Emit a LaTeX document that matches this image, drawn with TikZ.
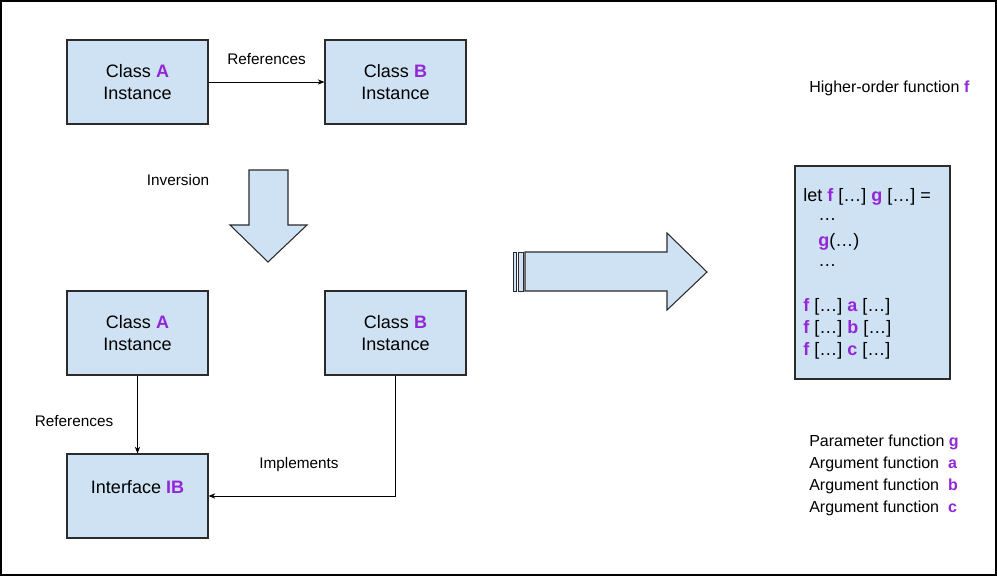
\documentclass[tikz,border=0pt]{standalone}
\usepackage{fontspec}
\setmainfont{Liberation Sans}
\usetikzlibrary{arrows.meta}
\definecolor{boxblue}{HTML}{CFE2F3}
\definecolor{pur}{HTML}{9327D8}
\definecolor{edge}{HTML}{2B2B2B}
\newcommand{\hl}[1]{\textcolor{pur}{\textbf{#1}}}
\tikzset{
  box/.style={draw=edge, fill=boxblue, line width=0.9pt, minimum width=105.75pt, minimum height=63pt, align=center, inner sep=0pt, font=\fontsize{13.5}{16.5}\selectfont},
  lbl/.style={font=\fontsize{11.5}{14}\selectfont, inner sep=0pt},
  side/.style={anchor=west, font=\fontsize{12}{14}\selectfont, inner sep=0pt},
  code/.style={anchor=west, font=\fontsize{13.5}{16}\selectfont, inner sep=0pt},
  conn/.style={draw=black, line width=0.6pt, -{Stealth[length=5pt,width=4pt]}},
  shapearrow/.style={draw=edge, fill=boxblue, line width=0.8pt, line join=miter},
  stripe/.style={draw=edge, fill=boxblue, line width=0.55pt}
}
\begin{document}
\begin{tikzpicture}[x=0.75pt,y=-0.75pt]
\useasboundingbox (0,0) rectangle (997,576);
\draw[line width=1.5pt] (1,1) rectangle (996,575);

% top row
\node[box] (ta) at (137.5,82) {Class \hl{A}\\Instance};
\node[box] (tb) at (395.5,82) {Class \hl{B}\\Instance};
\draw[conn] (ta) -- (tb) node[lbl, midway, above=13pt] (r1) {References};

% inversion
\node[lbl] (inv) at (178,180) {Inversion};
\draw[shapearrow] (249,170) -- (288,170) -- (288,225) -- (307,225) -- (268,262) -- (230,225) -- (249,225) -- cycle;

% bottom row
\node[box] (ba) at (137.5,333) {Class \hl{A}\\Instance};
\node[box] (bb) at (395.5,333) {Class \hl{B}\\Instance};
\node[box] (ib) at (137.5,496) {};
\node[font=\fontsize{13.5}{16.5}\selectfont, inner sep=0pt] (ibt) at (137.5,487) {Interface \hl{IB}};
\draw[conn] (ba) -- (ib);
\node[lbl] (r2) at (74,421) {References};
\coordinate (corner) at (bb.south |- ib.east);
\draw[conn] (bb.south) -- (corner) -- (ib.east);
\node[lbl] (impl) at (299,465) {Implements};

% big arrow
\draw[stripe] (513.5,252) rectangle (516.5,291);
\draw[stripe] (518.5,252) rectangle (523,291);
\draw[shapearrow] (525,252) -- (667,252) -- (667,233) -- (707,272) -- (667,310) -- (667,291) -- (525,291) -- cycle;

% right side
\node[side] (hof) at (809,88) {Higher-order function \hl{f}};
\node[draw=edge, fill=boxblue, line width=0.9pt, minimum width=116.25pt, minimum height=159.75pt, inner sep=0pt] (codebox) at (872.5,272.5) {};
\node[code] (c1) at (803,197) {let \hl{f} […] \hl{g} […] =};
\node[code] (c2) at (818,220) {…};
\node[code] (c3) at (818,242) {\hl{g}(…)};
\node[code] (c4) at (818,266) {…};
\node[code] (c5) at (803,307) {\hl{f} […] \hl{a} […]};
\node[code] (c6) at (803,329) {\hl{f} […] \hl{b} […]};
\node[code] (c7) at (803,351) {\hl{f} […] \hl{c} […]};

\node[side] (l1) at (809,442) {Parameter function \hl{g}};
\node[side] (l2) at (809,464) {Argument function \ \hl{a}};
\node[side] (l3) at (809,486) {Argument function \ \hl{b}};
\node[side] (l4) at (809,508) {Argument function \ \hl{c}};
\end{tikzpicture}
\end{document}
